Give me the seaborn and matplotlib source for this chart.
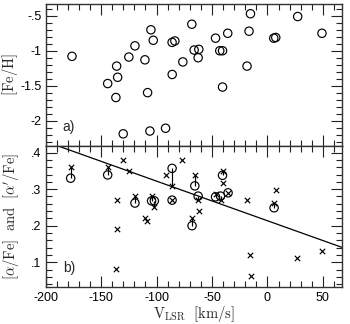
import numpy as np
import pandas as pd
import matplotlib
matplotlib.use("Agg")
import matplotlib.pyplot as plt
from matplotlib.ticker import MultipleLocator, FuncFormatter
import seaborn as sns

# ---------------- data ----------------
# panel a) : [Fe/H] vs V_LSR
fe_v = [-176.3, -144.1, -136.0, -135.1, -136.7, -125.0, -119.5, -110.5, -105.1, -103.0,
        -108.1, -130.1, -106.0, -91.9, -86.0, -83.5, -85.9, -76.3, -68.2, -66.1,
        -61.9, -62.5, -46.8, -35.8, -43.0, -40.5, -40.5, -15.3, -16.6, -18.4,
        5.7, 7.5, 27.3, 49.2]
fe_h = [-1.08, -1.47, -1.22, -1.38, -1.67, -1.09, -0.93, -1.13, -0.70, -0.85,
        -1.60, -2.19, -2.15, -2.11, -0.88, -0.86, -1.34, -1.16, -0.62, -0.99,
        -0.98, -1.10, -0.82, -0.75, -1.00, -1.00, -1.52, -0.47, -0.72, -1.22,
        -0.82, -0.81, -0.51, -0.75]

# panel b) : [alpha/Fe] (crosses) and [alpha'/Fe] (circles)
ab_v = [-177.5, -144.1, -130.6, -124.7, -135.8, -136.0, -136.7, -119.5, -110.5, -108.5,
        -104.5, -102.0, -91.9, -86.0, -86.0, -77.0, -65.5, -62.5, -62.0, -68.0,
        -46.8, -42.3, -40.5, -40.5, -35.5, -18.4, -16.0, -15.0, 7.5, 6.0,
        27.0, 49.2]
alpha = [0.362, 0.360, 0.380, 0.349, 0.270, 0.190, 0.081, 0.282, 0.222, 0.212,
         0.281, 0.252, 0.338, 0.308, 0.270, 0.380, 0.338, 0.270, 0.240, 0.220,
         0.288, 0.270, 0.350, 0.317, 0.290, 0.270, 0.120, 0.061, 0.299, 0.261,
         0.111, 0.132]
alpha_p = [0.330, 0.339, np.nan, np.nan, np.nan, np.nan, np.nan, 0.262, np.nan, np.nan,
           0.268, 0.268, np.nan, 0.357, 0.270, np.nan, 0.309, 0.281, np.nan, 0.200,
           0.279, 0.281, 0.338, np.nan, 0.290, np.nan, np.nan, np.nan, np.nan, 0.249,
           np.nan, np.nan]

# linear trend in panel b)
FIT_SLOPE = -0.001084
FIT_INTERCEPT = 0.2136

XTICKS = [-200, -150, -100, -50, 0, 50]

# ---------------- figure ----------------
sns.set_style("ticks")
plt.rcParams['font.family'] = ['Liberation Sans', 'DejaVu Sans']
plt.rcParams['mathtext.fontset'] = 'cm'

fig = plt.figure(figsize=(3.5, 3.24), dpi=100)
L, R = 0.1306, 0.9763
ax1 = fig.add_axes([L, 0.5503, R - L, 0.9867 - 0.5503])
ax2 = fig.add_axes([L, 0.1151, R - L, 0.5503 - 0.1151], sharex=ax1)

df_fe = pd.DataFrame({"v": fe_v, "feh": fe_h})
df_ab = pd.DataFrame({"v": ab_v, "a": alpha, "ap": alpha_p})

sns.scatterplot(data=df_fe, x="v", y="feh", ax=ax1, marker="o", s=36,
                facecolor="none", edgecolor="black", linewidth=0.85, legend=False)

pairs = df_ab.dropna(subset=["ap"])
ax2.vlines(pairs["v"], pairs["a"], pairs["ap"], color="black", linewidth=0.85)
sns.scatterplot(data=df_ab, x="v", y="a", ax=ax2, marker="x", s=15,
                color="black", linewidth=0.85, legend=False)
sns.scatterplot(data=pairs, x="v", y="ap", ax=ax2, marker="o", s=36,
                facecolor="none", edgecolor="black", linewidth=0.85, legend=False)
ax2.axline((0, FIT_INTERCEPT), slope=FIT_SLOPE, color="black", linewidth=0.9)

ax1.set_xlim(-200, 67)
ax1.set_ylim(-2.36, -0.335)
ax2.set_ylim(0.033, 0.419)

def fmt(v, pos):
    s = ("%g" % round(v, 3))
    s = s.replace("0.", ".")
    return s

for ax in (ax1, ax2):
    ax.xaxis.set_major_locator(MultipleLocator(50))
    ax.xaxis.set_minor_locator(MultipleLocator(10))
    ax.tick_params(which="both", direction="in", top=True, right=True,
                   width=0.8, colors="#222222", labelsize=9, labelcolor="black")
    ax.tick_params(which="major", length=8)
    ax.tick_params(which="minor", length=4)
    ax.tick_params(axis="y", which="major", pad=3)
    for sp in ax.spines.values():
        sp.set_linewidth(1.0)
        sp.set_color("#333333")
    ax.yaxis.set_major_formatter(FuncFormatter(fmt))
    ax.set_xlabel("")
    ax.set_ylabel("")

ax1.yaxis.set_major_locator(MultipleLocator(0.5))
ax1.yaxis.set_minor_locator(MultipleLocator(0.1))
ax2.yaxis.set_major_locator(MultipleLocator(0.1))
ax2.yaxis.set_minor_locator(MultipleLocator(0.02))
ax1.tick_params(labelbottom=False)
ax2.set_xticks(XTICKS)
ax2.xaxis.set_major_formatter(FuncFormatter(lambda v, p: "%d" % v))

ax1.text(0.055, 0.13, "a)", transform=ax1.transAxes, fontsize=10, va="center")
ax2.text(0.058, 0.135, "b)", transform=ax2.transAxes, fontsize=10, va="center")

fig.text(10 / 350, 1 - 75 / 324, r"$[\mathrm{Fe/H}]$", rotation=90,
         ha="center", va="center", fontsize=10.5)
fig.text(11 / 350, 1 - 216 / 324,
         r"$[\alpha/\mathrm{Fe}]\ \ \mathrm{and}\ \ [\alpha^{\prime}/\mathrm{Fe}]$",
         rotation=90, ha="center", va="center", fontsize=10.5)
fig.text(194 / 350, 1 - 314 / 324, r"$\mathrm{V}_{\mathrm{LSR}}\ \ [\mathrm{km/s}]$",
         ha="center", va="center", fontsize=10.5)

fig.savefig("out.png", dpi=100)
